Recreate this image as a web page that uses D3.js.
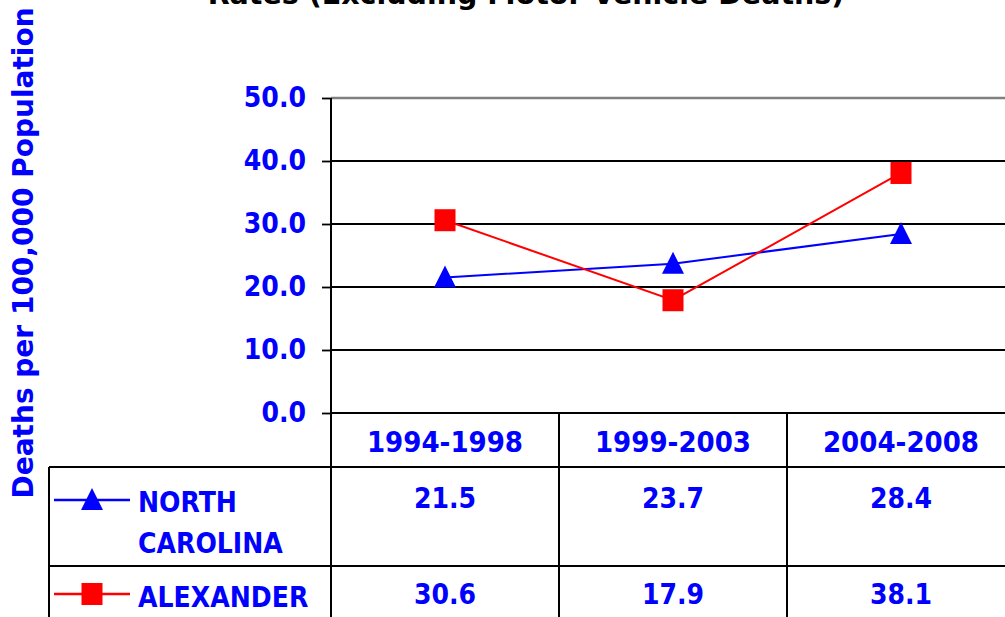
<!DOCTYPE html>
<html>
<head>
<meta charset="utf-8">
<script src="https://cdn.jsdelivr.net/npm/d3@7"></script>
<style>
  html, body { margin: 0; padding: 0; background: #fff; overflow: hidden; }
  svg { display: block; }
  text { font-family: "DejaVu Sans Condensed", "DejaVu Sans", sans-serif; font-stretch: condensed; font-weight: bold; }
  text.wide { font-family: "DejaVu Sans", sans-serif; font-stretch: normal; }
</style>
</head>
<body>
<svg id="chart" width="1005" height="617"></svg>
<script>
const categories = ["1994-1998", "1999-2003", "2004-2008"];
const northCarolina = [21.5, 23.7, 28.4];
const alexander = [30.6, 17.9, 38.1];
const yTicks = [0, 10, 20, 30, 40, 50];
const seriesNames = [["NORTH", "CAROLINA"], ["ALEXANDER"]];
const titleText = "Rates (Excluding Motor Vehicle Deaths)";
const yTitle = "Deaths per 100,000 Population";

const svg = d3.select("#chart");
const blue = "#0000ff", red = "#ff0000", textBlue = "#0000ff";

const x = d3.scaleBand().domain(categories).range([331, 1015]);
const y = d3.scaleLinear().domain([0, 50]).range([413, 98]);

// Title (cut off at top, as in the reference)
svg.append("text").attr("class", "wide").attr("x", 526).attr("y", 4).attr("text-anchor", "middle")
  .attr("font-size", 28.5).attr("fill", "#000").text(titleText);

// Y title
svg.append("text").attr("class", "wide").attr("transform", "translate(33,253) rotate(-90)")
  .attr("text-anchor", "middle").attr("font-size", 28).attr("fill", textBlue).text(yTitle);

// Gridlines
svg.append("g").selectAll("line").data(yTicks).join("line")
  .attr("x1", 331).attr("x2", 1005)
  .attr("y1", d => y(d)).attr("y2", d => y(d))
  .attr("stroke", d => d === 50 ? "#808080" : "#000")
  .attr("stroke-width", d => d === 50 ? 2.5 : 1.8);

// Y axis
const yAxis = d3.axisLeft(y).tickValues(yTicks).tickSize(9).tickPadding(16).tickFormat(d3.format(".1f"));
const ga = svg.append("g").attr("transform", "translate(331,0)").call(yAxis);
ga.select(".domain").remove();
ga.selectAll(".tick line").attr("stroke", "#000").attr("stroke-width", 1.8);
ga.selectAll(".tick text").attr("font-size", 28).attr("fill", textBlue)
  .attr("font-family", "'DejaVu Sans Condensed', 'DejaVu Sans', sans-serif").attr("font-weight", "bold");

// Table lines
const tableBottom = 617;
const rowTops = [467, 566];
const tg = svg.append("g").attr("stroke", "#000").attr("stroke-width", 2);
tg.append("line").attr("x1", 331).attr("x2", 331).attr("y1", 98).attr("y2", tableBottom);
categories.slice(1).forEach(c => {
  tg.append("line").attr("x1", x(c)).attr("x2", x(c)).attr("y1", 413).attr("y2", tableBottom);
});
tg.append("line").attr("x1", 49).attr("x2", 49).attr("y1", rowTops[0]).attr("y2", tableBottom);
rowTops.forEach(t => {
  tg.append("line").attr("x1", 49).attr("x2", 1005).attr("y1", t).attr("y2", t);
});

// Header labels
svg.append("g").selectAll("text").data(categories).join("text")
  .attr("x", d => x(d) + x.bandwidth() / 2).attr("y", 452)
  .attr("text-anchor", "middle").attr("font-size", 29).attr("fill", textBlue).text(d => d);

// Value rows
const rows = [northCarolina, alexander];
const rowBaselines = [508, 604];
rows.forEach((vals, i) => {
  svg.append("g").selectAll("text").data(vals).join("text")
    .attr("x", (d, j) => x(categories[j]) + x.bandwidth() / 2).attr("y", rowBaselines[i])
    .attr("text-anchor", "middle").attr("font-size", 28).attr("fill", textBlue)
    .text(d => d3.format(".1f")(d));
});

// Lines
const line = d3.line().x((d, i) => x(categories[i]) + x.bandwidth() / 2).y(d => y(d));
svg.append("path").datum(northCarolina).attr("d", line).attr("fill", "none").attr("stroke", blue).attr("stroke-width", 2);
svg.append("path").datum(alexander).attr("d", line).attr("fill", "none").attr("stroke", red).attr("stroke-width", 2);

const tri = (cx, cy) => `M${cx},${cy - 12}L${cx + 11},${cy + 10}L${cx - 11},${cy + 10}Z`;
svg.append("g").selectAll("path").data(northCarolina).join("path")
  .attr("d", (d, i) => tri(x(categories[i]) + x.bandwidth() / 2, y(d))).attr("fill", blue);
svg.append("g").selectAll("rect").data(alexander).join("rect")
  .attr("x", (d, i) => x(categories[i]) + x.bandwidth() / 2 - 10.5).attr("y", d => y(d) - 11)
  .attr("width", 21).attr("height", 22).attr("fill", red);

// Legend
const legY = [500, 594];
svg.append("line").attr("x1", 54).attr("x2", 130).attr("y1", legY[0]).attr("y2", legY[0]).attr("stroke", blue).attr("stroke-width", 2.5);
svg.append("path").attr("d", tri(92, legY[0])).attr("fill", blue);
svg.append("line").attr("x1", 54).attr("x2", 130).attr("y1", legY[1]).attr("y2", legY[1]).attr("stroke", red).attr("stroke-width", 2.5);
svg.append("rect").attr("x", 81.5).attr("y", legY[1] - 11).attr("width", 21).attr("height", 22).attr("fill", red);

const lg = svg.append("g").attr("fill", textBlue).attr("font-size", 28);
lg.append("text").attr("x", 138).attr("y", 512).text(seriesNames[0][0]);
lg.append("text").attr("x", 138).attr("y", 553).text(seriesNames[0][1]);
lg.append("text").attr("x", 138).attr("y", 607).text(seriesNames[1][0]);
</script>
</body>
</html>
